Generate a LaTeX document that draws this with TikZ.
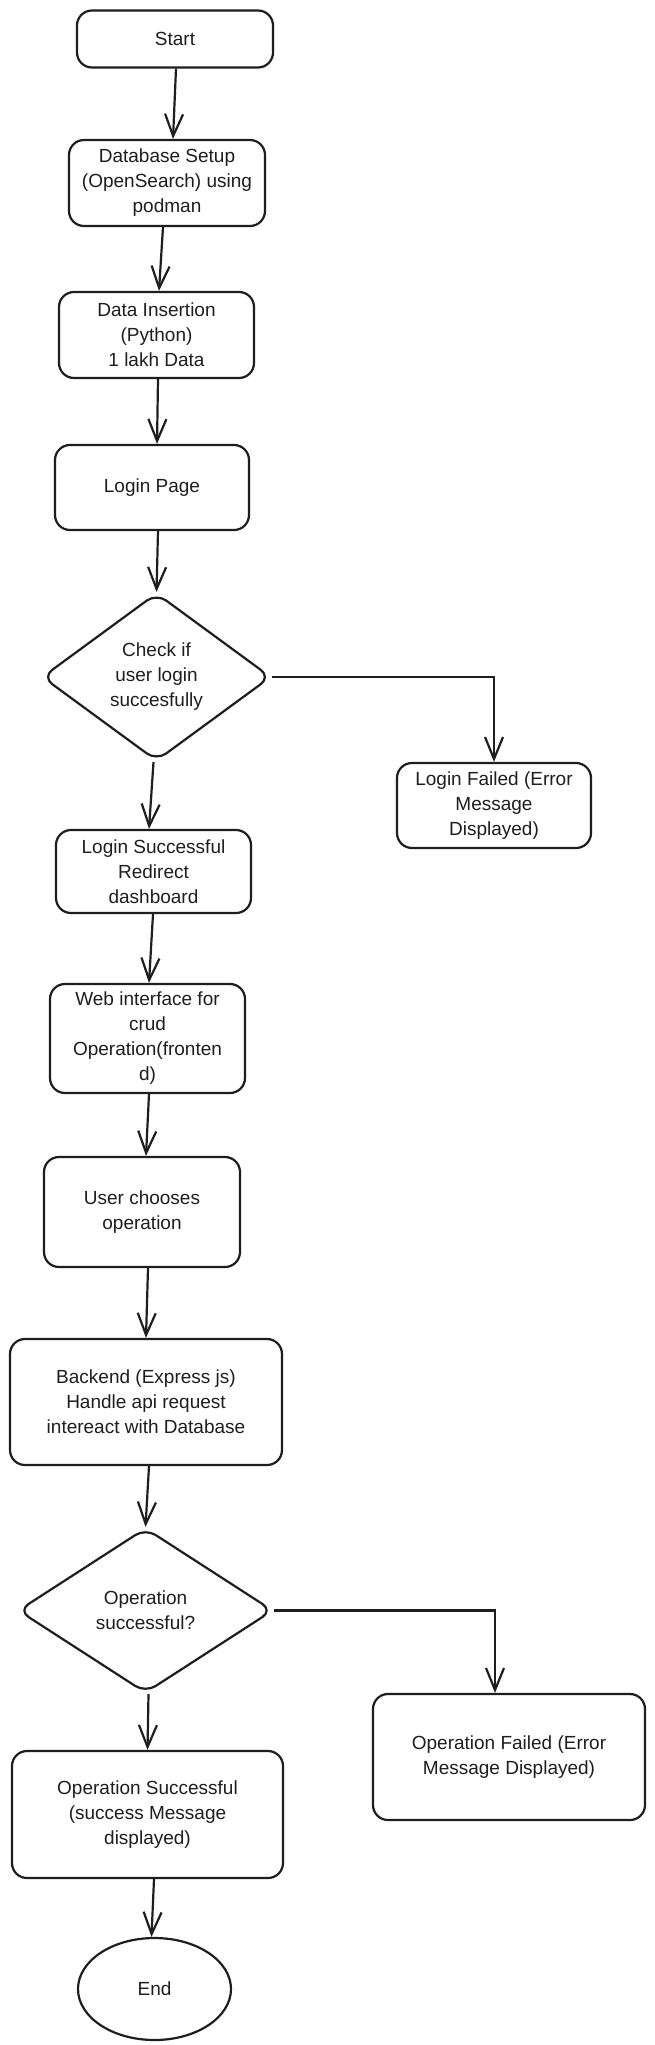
\documentclass[tikz,border=0pt]{standalone}
\usepackage{fontspec}
\setmainfont{Liberation Sans}
\usetikzlibrary{shapes.geometric,arrows.meta}
\definecolor{ink}{HTML}{1E1E1E}
\begin{document}
\begin{tikzpicture}[x=1pt,y=-1pt,
  txt/.style={align=center, inner sep=0pt, text=ink, font=\fontsize{19}{25}\selectfont},
  box/.style={txt, draw=ink, line width=2.2pt, rounded corners=15pt},
  dec/.style={txt, draw=ink, line width=2.2pt, diamond, rounded corners=12pt, aspect=1.4},
  term/.style={txt, draw=ink, line width=2.2pt, ellipse},
  conn/.style={draw=ink, line width=2.2pt, -{Straight Barb[length=22pt,width=18pt]}}]
\fill[white] (0,0) rectangle (655,2045);
\useasboundingbox (0,0) rectangle (655,2045);

\node[box, minimum width=196pt, minimum height=57pt] (start) at (175,39) {Start};
\node[box, minimum width=196pt, minimum height=86pt] (db) at (167,183) {Database Setup\\(OpenSearch) using\\podman};
\node[box, minimum width=195pt, minimum height=86pt] (ins) at (156.5,335) {Data Insertion\\(Python)\\1 lakh Data};
\node[box, minimum width=194pt, minimum height=85pt] (lp) at (152,487.5) {Login Page};
\node[dec, minimum width=229pt, minimum height=168pt] (d1) at (156.5,677) {Check if\\user login\\succesfully};
\node[box, minimum width=194pt, minimum height=85pt] (lf) at (494,805.5) {Login Failed (Error\\Message\\Displayed)};
\node[box, minimum width=195pt, minimum height=83pt] (ls) at (153.5,871.5) {Login Successful\\Redirect\\dashboard};
\node[box, minimum width=195pt, minimum height=109pt] (web) at (147.5,1038.5) {Web interface for\\crud\\Operation(fronten\\d)};
\node[box, minimum width=196pt, minimum height=110pt] (uc) at (142,1212) {User chooses\\operation};
\node[box, minimum width=272pt, minimum height=126pt] (be) at (146,1402) {Backend (Express js)\\Handle api request\\intereact with Database};
\node[dec, minimum width=255pt, minimum height=165pt] (d2) at (145.5,1610.5) {Operation\\successful?};
\node[box, minimum width=272pt, minimum height=126pt] (of) at (509,1757) {Operation Failed (Error\\Message Displayed)};
\node[box, minimum width=271pt, minimum height=127pt] (os) at (147.5,1814.5) {Operation Successful\\(success Message\\displayed)};
\node[term, minimum width=153pt, minimum height=102pt] (end) at (154.5,1989) {End};

\coordinate (ofin) at ([xshift=-14pt]of.north);

\draw[conn] ([xshift=1pt]start.south) -- ([xshift=6pt]db.north);
\draw[conn] ([xshift=-4pt]db.south) -- ([xshift=2.5pt]ins.north);
\draw[conn] ([xshift=1.5pt]ins.south) -- ([xshift=5pt]lp.north);
\draw[conn] ([xshift=6pt]lp.south) -- (d1.north);
\draw[conn] (d1.east) -| (lf.north);
\draw[conn] ([xshift=-3pt]d1.south) -- ([xshift=-4.5pt]ls.north);
\draw[conn] ([xshift=-0.5pt]ls.south) -- ([xshift=1.5pt]web.north);
\draw[conn] ([xshift=1.5pt]web.south) -- ([xshift=4pt]uc.north);
\draw[conn] ([xshift=6pt]uc.south) -- (be.north);
\draw[conn] ([xshift=3pt]be.south) -- (d2.north);
\draw[conn] (d2.east) -| (ofin);
\draw[conn] ([xshift=3pt]d2.south) -- (os.north);
\draw[conn] ([xshift=6.5pt]os.south) -- ([xshift=-3pt]end.north);
\end{tikzpicture}
\end{document}
